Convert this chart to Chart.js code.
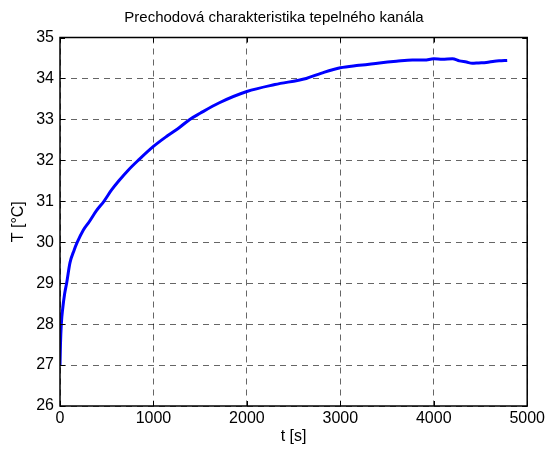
<!DOCTYPE html>
<html>
<head>
<meta charset="utf-8">
<script src="https://cdn.jsdelivr.net/npm/chart.js@4"></script>
<style>
  body { margin: 0; background: #fff; }
  #wrap { width: 548px; height: 450px; }
</style>
</head>
<body>
<div id="wrap"><canvas id="chart" width="548" height="450"></canvas></div>
<script>
// time [s] and temperature [°C]
const times = [0, 5, 14, 30, 50, 71, 107, 150, 185, 250, 313, 390, 470, 550, 630, 730, 837, 1000,
    1150, 1282, 1389, 1500, 1700, 2000, 2300, 2635, 2800, 3000, 3200, 3419, 3600, 3771, 3900,
    4000, 4092, 4200, 4274, 4350, 4412, 4480, 4562, 4650, 4700, 4786]
const temps = [27, 27.5, 28, 28.4, 28.75, 29, 29.5, 29.8, 30, 30.3, 30.5, 30.77, 31, 31.27, 31.5, 31.76, 32, 32.34,
    32.6, 32.81, 33, 33.15, 33.4, 33.68, 33.85, 34, 34.13, 34.26, 34.32, 34.38, 34.42, 34.45, 34.45,
    34.48, 34.47, 34.48, 34.43, 34.4, 34.37, 34.38, 34.39, 34.42, 34.43, 34.44]
const xTicks = [0, 1000, 2000, 3000, 4000, 5000]
const yTicks = [26, 27, 28, 29, 30, 31, 32, 33, 34, 35]
const titleText = 'Prechodová charakteristika tepelného kanála'

const FONT = '"Liberation Sans", Arial, sans-serif'

// matlab-like box with inward ticks on all four sides, title centred on the figure
const boxPlugin = {
    id: 'box',
    afterDraw(chart) {
        const { ctx, chartArea: a, scales } = chart
        ctx.save()
        ctx.strokeStyle = '#000'
        ctx.lineWidth = 1.5
        ctx.strokeRect(a.left, a.top, a.right - a.left, a.bottom - a.top)
        ctx.lineWidth = 1
        ctx.beginPath()
        xTicks.forEach(v => {
            const x = Math.round(scales.x.getPixelForValue(v)) + 0.5
            ctx.moveTo(x, a.bottom); ctx.lineTo(x, a.bottom - 5)
            ctx.moveTo(x, a.top); ctx.lineTo(x, a.top + 5)
        })
        yTicks.forEach(v => {
            const y = Math.round(scales.y.getPixelForValue(v)) + 0.5
            ctx.moveTo(a.left, y); ctx.lineTo(a.left + 5, y)
            ctx.moveTo(a.right, y); ctx.lineTo(a.right - 5, y)
        })
        ctx.stroke()

        ctx.fillStyle = '#000'
        ctx.font = '15px ' + FONT
        ctx.textAlign = 'center'
        ctx.textBaseline = 'middle'
        ctx.fillText(titleText, chart.width / 2, 18)
        ctx.restore()
    }
}

const ctx = document.getElementById('chart').getContext('2d')
const chart = new Chart(ctx, {
    type: 'line',
    data: {
        datasets: [{
            data: times.map((t, i) => ({ x: t, y: temps[i] })),
            borderColor: '#0000ff',
            borderWidth: 3,
            pointRadius: 0,
            cubicInterpolationMode: 'monotone',
            fill: false
        }]
    },
    options: {
        responsive: false,
        animation: false,
        layout: { padding: { left: 0, right: 20, top: 37.5, bottom: 0 } },
        plugins: {
            legend: { display: false },
            tooltip: { enabled: false },
            title: { display: false }
        },
        scales: {
            x: {
                type: 'linear',
                min: 0,
                max: 5000,
                afterBuildTicks: s => { s.ticks = xTicks.map(v => ({ value: v })) },
                afterFit: s => { s.height = 44 },
                ticks: {
                    color: '#000', font: { family: FONT, size: 16 }, padding: 3, maxRotation: 0,
                    callback: v => String(v)
                },
                grid: { color: 'rgba(0,0,0,0.6)', lineWidth: 1, drawTicks: false },
                border: { display: false, dash: [6, 5] },
                title: {
                    display: true, text: 't [s]', color: '#000',
                    font: { family: FONT, size: 16 }, padding: { top: 0, bottom: 4 }
                }
            },
            y: {
                min: 26,
                max: 35,
                afterBuildTicks: s => { s.ticks = yTicks.map(v => ({ value: v })) },
                afterFit: s => { s.width = 60 },
                ticks: { color: '#000', font: { family: FONT, size: 16 }, padding: 6 },
                grid: { color: 'rgba(0,0,0,0.6)', lineWidth: 1, drawTicks: false },
                border: { display: false, dash: [6, 5] },
                title: {
                    display: true, text: 'T [°C]', color: '#000',
                    font: { family: FONT, size: 16 }, padding: { top: 9, bottom: 0 }
                }
            }
        }
    },
    plugins: [boxPlugin]
})
</script>
</body>
</html>
